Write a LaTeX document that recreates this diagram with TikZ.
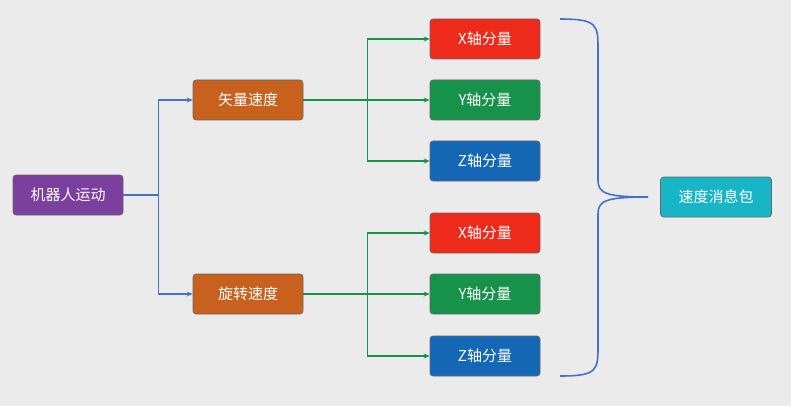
\documentclass[tikz,border=0pt]{standalone}
\usepackage{fontspec}
\setmainfont{Noto Sans CJK SC}
\usetikzlibrary{arrows.meta}
\definecolor{bg}{HTML}{EBEBEB}
\definecolor{cpur}{HTML}{7B3F9E}
\definecolor{corg}{HTML}{C8601E}
\definecolor{cred}{HTML}{EE2A1B}
\definecolor{cgrn}{HTML}{17924A}
\definecolor{cblu}{HTML}{1467B4}
\definecolor{ctea}{HTML}{17B5C6}
\definecolor{lblu}{HTML}{4472C4}
\definecolor{lgrn}{HTML}{17924A}
\begin{document}
\begin{tikzpicture}[x=1pt,y=-1pt,
 box/.style={draw=black!60,line width=0.6pt,rounded corners=3pt,minimum width=110pt,minimum height=40pt,text=white,font=\fontsize{15}{15}\selectfont,inner sep=0pt},
 bl/.style={lblu,line width=1.6pt,-{Stealth[length=6pt,width=5pt]}},
 gl/.style={lgrn,line width=1.6pt,-{Stealth[length=6pt,width=5pt]}}]
\fill[bg] (0,0) rectangle (791,406);
\useasboundingbox (0,0) rectangle (791,406);
\node[box,fill=cpur] (r) at (68,195) {机器人运动};
\node[box,fill=corg] (v) at (248,100) {矢量速度};
\node[box,fill=corg] (w) at (248,294) {旋转速度};
\node[box,fill=cred] (x1) at (485,39) {X轴分量};
\node[box,fill=cgrn] (y1) at (485,100) {Y轴分量};
\node[box,fill=cblu] (z1) at (485,161) {Z轴分量};
\node[box,fill=cred] (x2) at (485,233) {X轴分量};
\node[box,fill=cgrn] (y2) at (485,294) {Y轴分量};
\node[box,fill=cblu] (z2) at (485,356) {Z轴分量};
\node[box,fill=ctea,minimum width=111pt] (p) at (716,197) {速度消息包};
\draw[bl] (r.east) -- ++(35,0) |- (v.west);
\draw[bl] (r.east) -- ++(35,0) |- (w.west);
\foreach \a/\t in {v/x1,v/y1,v/z1,w/x2,w/y2,w/z2}
  \draw[gl] (\a.east) -- ++(64,0) |- (\t.west);
\coordinate (bt) at (560,19);
\coordinate (bb) at (560,376);
\coordinate (tip) at (648,197);
\draw[lblu,line width=1.6pt] (bt) .. controls (598,19) and (598,25) .. (598,50)
  -- (598,180) .. controls (598,193) and (605,197) .. (tip)
  .. controls (605,197) and (598,201) .. (598,214)
  -- (598,345) .. controls (598,370) and (598,376) .. (bb);
\end{tikzpicture}
\end{document}
